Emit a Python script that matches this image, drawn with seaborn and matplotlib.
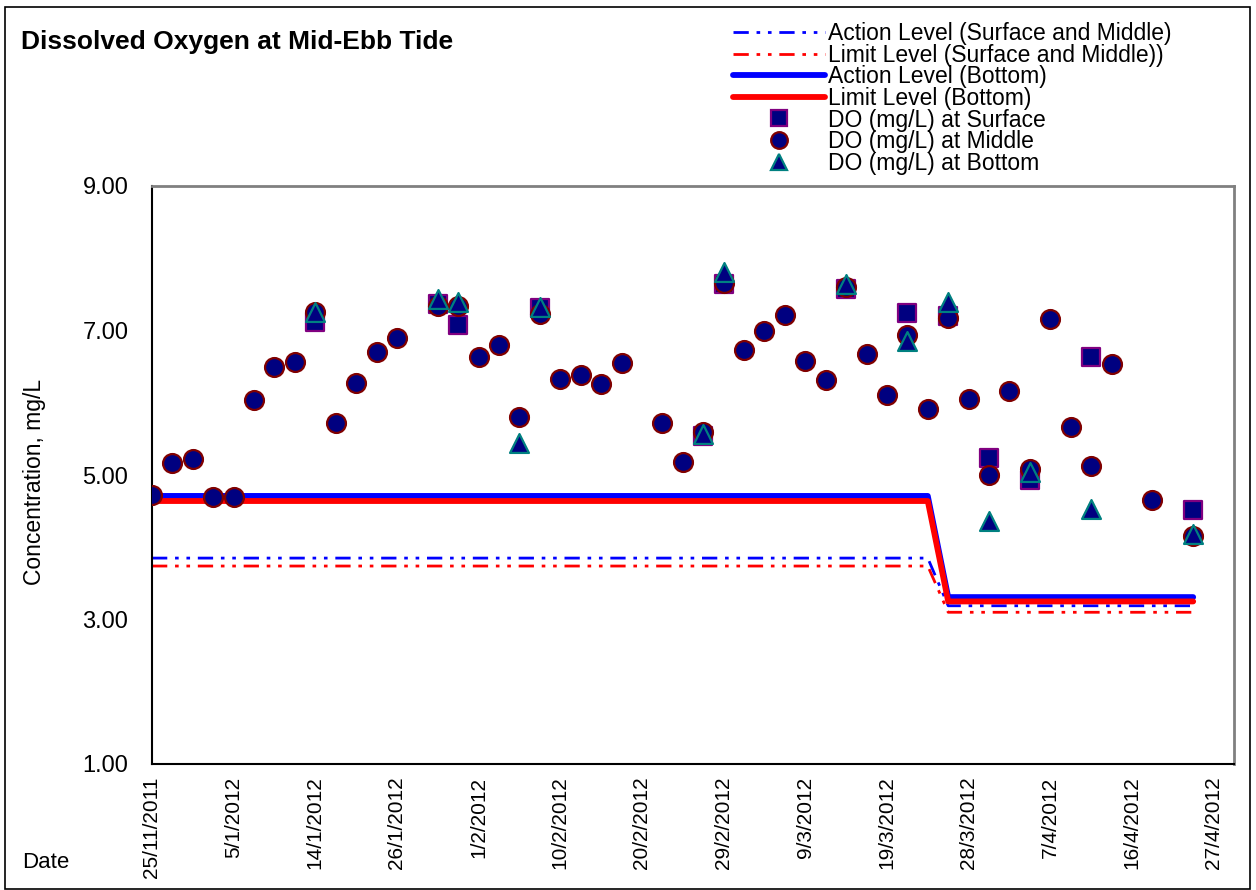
import numpy as np
import matplotlib
matplotlib.use('Agg')
import matplotlib.pyplot as plt
import seaborn as sns
from matplotlib.lines import Line2D
from matplotlib.patches import Rectangle

# ---------------- data ----------------
tick_labels = ['25/11/2011', '5/1/2012', '14/1/2012', '26/1/2012', '1/2/2012',
               '10/2/2012', '20/2/2012', '29/2/2012', '9/3/2012', '19/3/2012',
               '28/3/2012', '7/4/2012', '16/4/2012', '27/4/2012']
n_categories = 54
nan = np.nan

# DO at middle, one value per category position (nan = no sample)
do_middle = [4.73, 5.17, 5.22, 4.70, 4.70, 6.04, 6.49, 6.57, 7.26, 5.72,
             6.27, 6.70, 6.89, nan, 7.34, 7.34, 6.63, 6.80, 5.80, 7.23,
             6.33, 6.38, 6.26, 6.55, nan, 5.72, 5.18, 5.59, 7.66, 6.73,
             7.00, 7.21, 6.58, 6.31, 7.60, 6.67, 6.11, 6.94, 5.91, 7.17,
             6.05, 5.00, 6.16, 5.08, 7.16, 5.66, 5.12, 6.54, nan, 4.65,
             nan, 4.16, nan, nan]

surface_pos = [8, 14, 15, 19, 27, 28, 34, 37, 39, 41, 43, 46, 51]
do_surface = [7.12, 7.37, 7.08, 7.31, 5.54, 7.64, 7.57, 7.24, 7.20, 5.23, 4.93, 6.64, 4.52]

bottom_pos = [8, 14, 15, 18, 19, 27, 28, 34, 37, 39, 41, 43, 46, 51]
do_bottom = [7.26, 7.43, 7.39, 5.44, 7.33, 5.57, 7.81, 7.64, 6.85, 7.39, 4.36, 5.04, 4.53, 4.19]

# criteria levels (vertices of the step lines)
level_pos = [0, 38, 39, 51]
action_sm = [3.85, 3.85, 3.19, 3.19]
limit_sm = [3.74, 3.74, 3.10, 3.10]
action_bottom = [4.71, 4.71, 3.31, 3.31]
limit_bottom = [4.64, 4.64, 3.25, 3.25]

y_ticks = [1, 3, 5, 7, 9]

# ---------------- style ----------------
sns.set_style('white')
plt.rcParams['font.family'] = ['Liberation Sans', 'DejaVu Sans']
plt.rcParams.update({'text.color': 'black', 'axes.labelcolor': 'black',
                     'xtick.color': 'black', 'ytick.color': 'black'})

W, H = 1256, 890
fig = plt.figure(figsize=(W / 100, H / 100), dpi=100)
ax = fig.add_axes([152 / W, 1 - 764 / H, (1234 - 152) / W, (764 - 186) / H])

navy = '#000080'
blue = '#0000FF'
red = '#FF0000'
dashdotdot = (0, (5.5, 2.8, 1.3, 2.8, 1.3, 2.8))

# lines
sns.lineplot(x=level_pos, y=action_sm, ax=ax, color=blue, linewidth=2.0,
             linestyle=dashdotdot, estimator=None, sort=False, legend=False, zorder=2)
sns.lineplot(x=level_pos, y=limit_sm, ax=ax, color=red, linewidth=2.0,
             linestyle=dashdotdot, estimator=None, sort=False, legend=False, zorder=2)
sns.lineplot(x=level_pos, y=action_bottom, ax=ax, color=blue, linewidth=4.2,
             solid_capstyle='round', solid_joinstyle='round',
             estimator=None, sort=False, legend=False, zorder=2)
sns.lineplot(x=level_pos, y=limit_bottom, ax=ax, color=red, linewidth=4.2,
             solid_capstyle='round', solid_joinstyle='round',
             estimator=None, sort=False, legend=False, zorder=2)

# markers
mid_pos = list(range(n_categories))
sns.scatterplot(x=surface_pos, y=do_surface, ax=ax, marker='s', s=180,
                color=navy, edgecolor='#800080', linewidth=1.6, legend=False, zorder=3)
sns.scatterplot(x=mid_pos, y=do_middle, ax=ax, marker='o', s=185,
                color=navy, edgecolor='#800000', linewidth=1.6, legend=False, zorder=4)
sns.scatterplot(x=bottom_pos, y=do_bottom, ax=ax, marker='^', s=185,
                color=navy, edgecolor='#008080', linewidth=1.6, legend=False, zorder=5)

# axes
ax.set_xlim(0, n_categories - 1)
ax.set_ylim(1, 9)
ax.set_yticks(y_ticks)
ax.set_yticklabels([f'{v:.2f}' for v in y_ticks], fontsize=17)
ax.set_xticks(list(range(0, n_categories - 1, 4)))
ax.set_xticklabels(tick_labels, rotation=90, fontsize=15, va='top')
ax.tick_params(axis='both', direction='in', length=6, width=1, color='black')
ax.tick_params(axis='y', pad=17)
ax.tick_params(axis='x', pad=9)
ax.set_xlabel('')
ax.set_ylabel('')
for side in ['left', 'bottom']:
    ax.spines[side].set_color('black')
    ax.spines[side].set_linewidth(1.5)
for side in ['top', 'right']:
    ax.spines[side].set_color('#808080')
    ax.spines[side].set_linewidth(2)

# texts
fig.text(21 / W, 1 - 42 / H, 'Dissolved Oxygen at Mid-Ebb Tide', fontsize=19,
         fontweight='bold', ha='left', va='center')
fig.text(35 / W, 1 - 482 / H, 'Concentration, mg/L', fontsize=16.5,
         rotation=90, ha='center', va='center')
fig.text(22 / W, 1 - 862 / H, 'Date', fontsize=16, ha='left', va='center')

# legend
handles = [
    Line2D([], [], color=blue, lw=2.0, linestyle=dashdotdot),
    Line2D([], [], color=red, lw=2.0, linestyle=dashdotdot),
    Line2D([], [], color=blue, lw=4.2, solid_capstyle='round'),
    Line2D([], [], color=red, lw=4.2, solid_capstyle='round'),
    Line2D([], [], marker='s', markersize=12, mfc=navy, mec='#800080', mew=1.6, linestyle='none'),
    Line2D([], [], marker='o', markersize=12, mfc=navy, mec='#800000', mew=1.6, linestyle='none'),
    Line2D([], [], marker='^', markersize=12, mfc=navy, mec='#008080', mew=1.6, linestyle='none'),
]
labels = ['Action Level (Surface and Middle)', 'Limit Level (Surface and Middle))',
          'Action Level (Bottom)', 'Limit Level (Bottom)',
          'DO (mg/L) at Surface', 'DO (mg/L) at Middle', 'DO (mg/L) at Bottom']
fig.legend(handles, labels, loc='upper left', bbox_to_anchor=(733 / W, 1 - 22 / H),
           frameon=False, fontsize=16.5, handlelength=4.0, handletextpad=0.15,
           labelspacing=-0.06, borderpad=0, borderaxespad=0)

# figure border
fig.patches.append(Rectangle((5 / W, 1 / H), (1250 - 5) / W, (883 - 1) / H,
                             transform=fig.transFigure, fill=False,
                             edgecolor='black', linewidth=1.2))

fig.savefig('out.png', dpi=100)
